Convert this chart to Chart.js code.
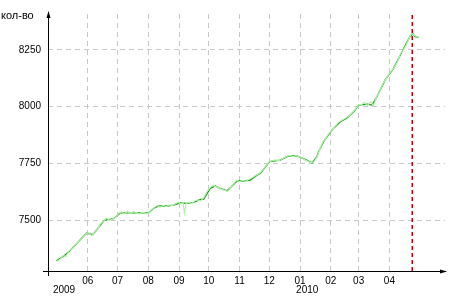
<!DOCTYPE html>
<html>
<head>
<meta charset="utf-8">
<script src="https://cdn.jsdelivr.net/npm/chart.js@4/dist/chart.umd.min.js"></script>
<style>
  html, body { margin: 0; padding: 0; background: #fff; }
</style>
</head>
<body>
<canvas id="chart" width="450" height="296"></canvas>
<script>
// x values are days counted from 2009-06-01
var smoothDays = [-31.5, -24, -19, -10.7, -1.3, 2, 5.4, 11, 16.8, 22, 26, 33, 40, 50, 61.4, 66.5, 71.5, 80, 86.6, 93.4, 100, 106.7, 113.5, 116.8, 123.6, 128.6, 133.6, 140.4, 145.4, 150.5, 157, 163.8, 170.6, 174, 183.3, 194, 202.4, 211, 219, 226, 231, 232.6, 237.7, 246, 254.5, 261, 268, 273, 281.4, 286.4, 291.4, 299.8, 308.2, 316.6, 325, 327.8, 330, 333.3];
var smoothValues = [7322, 7343, 7362, 7399, 7443, 7440, 7437, 7469, 7501, 7504, 7507, 7533, 7533, 7533, 7533, 7553, 7563, 7563, 7567, 7577, 7575, 7579, 7592, 7592, 7641, 7651, 7641, 7630, 7651, 7673, 7673, 7677, 7699, 7707, 7758, 7765, 7783, 7783, 7768, 7753, 7780, 7802, 7846, 7897, 7934, 7949, 7978, 8007, 8011, 8007, 8044, 8119, 8169, 8242, 8311, 8320, 8308, 8305];

var rawDays = [-31, -28, -25, -22, -19, -15, -12, -8, -5, -2, 1, 4, 7, 10, 13, 16, 19, 22, 25, 28, 31, 34, 37, 40, 43, 46, 49, 52, 55, 58, 61, 64, 67, 70, 73, 76, 79, 82, 85, 88, 91, 94, 96, 97.5, 99, 102, 105, 108, 111, 114, 117, 120, 123, 126, 129, 132, 135, 138, 141, 144, 147, 150, 153, 156, 159, 162, 165, 168, 171, 174, 177, 180, 183, 186, 189, 192, 195, 198, 201, 204, 207, 210, 213, 216, 219, 222, 225, 228, 231, 234, 237, 240, 243, 246, 249, 252, 255, 258, 261, 264, 267, 270, 273, 276, 279, 282, 285, 288, 291, 294, 297, 300, 303, 306, 309, 312, 315, 318, 321, 324, 326, 328, 330, 333];
var rawValues = [7320, 7328, 7345, 7340, 7365, 7378, 7395, 7410, 7425, 7440, 7445, 7432, 7444, 7462, 7485, 7497, 7510, 7500, 7506, 7512, 7530, 7538, 7528, 7540, 7530, 7538, 7534, 7528, 7536, 7532, 7530, 7545, 7556, 7565, 7558, 7566, 7560, 7568, 7565, 7572, 7580, 7572, 7578, 7532, 7574, 7580, 7574, 7586, 7590, 7586, 7600, 7625, 7642, 7654, 7648, 7645, 7636, 7632, 7628, 7645, 7660, 7676, 7670, 7676, 7672, 7680, 7685, 7694, 7702, 7710, 7725, 7742, 7758, 7762, 7766, 7762, 7768, 7775, 7782, 7786, 7780, 7785, 7780, 7774, 7766, 7760, 7754, 7758, 7778, 7815, 7845, 7862, 7882, 7896, 7912, 7928, 7938, 7945, 7952, 7962, 7975, 7992, 8008, 8010, 8018, 8005, 8022, 8004, 8044, 8065, 8098, 8120, 8140, 8158, 8172, 8198, 8232, 8250, 8272, 8302, 8322, 8318, 8312, 8306];

var monthTicks = [0, 30, 61, 92, 122, 153, 183, 214, 245, 273, 304];
var monthLabels = ['06', '07', '08', '09', '10', '11', '12', '01', '02', '03', '04'];
var yearDays = [-31, 214];
var yearLabels = ['2009', '2010'];
var valueTicks = [7500, 7750, 8000, 8250];
var markerDay = 327;
var yMin = 7277, yMax = 8408;

function toPoints(xs, ys) {
  return xs.map(function (x, i) { return { x: x, y: ys[i] }; });
}

var FONT = 'Liberation Sans, Arial, sans-serif';

var extras = {
  id: 'extras',
  afterDraw: function (chart) {
    var ctx = chart.ctx;
    var area = chart.chartArea;
    var xs = chart.scales.x;
    ctx.save();
    ctx.strokeStyle = '#000';
    ctx.fillStyle = '#000';
    ctx.lineWidth = 1;
    // axes with a small overhang
    ctx.beginPath();
    ctx.moveTo(area.left - 5, area.bottom + 0.5);
    ctx.lineTo(area.right + 1, area.bottom + 0.5);
    ctx.moveTo(area.left + 0.5, area.bottom + 5);
    ctx.lineTo(area.left + 0.5, area.top - 2);
    ctx.stroke();
    // arrow heads
    ctx.beginPath();
    ctx.moveTo(area.left + 0.5, area.top - 3);
    ctx.lineTo(area.left - 1.5, area.top + 4);
    ctx.lineTo(area.left + 2.5, area.top + 4);
    ctx.closePath();
    ctx.fill();
    ctx.beginPath();
    ctx.moveTo(area.right + 2, area.bottom + 0.5);
    ctx.lineTo(area.right - 5, area.bottom - 1.5);
    ctx.lineTo(area.right - 5, area.bottom + 2.5);
    ctx.closePath();
    ctx.fill();

    ctx.font = '11px ' + FONT;
    ctx.textBaseline = 'middle';
    ctx.textAlign = 'left';
    ctx.fillText('кол-во', 1, 16);

    ctx.font = '10px ' + FONT;
    for (var i = 0; i < yearDays.length; i++) {
      ctx.fillText(yearLabels[i], xs.getPixelForValue(yearDays[i]) - 4, 290);
    }
    ctx.restore();
  }
};

new Chart(document.getElementById('chart'), {
  type: 'line',
  data: {
    datasets: [
      {
        data: [{ x: markerDay, y: yMin }, { x: markerDay, y: yMax + 8 }],
        borderColor: '#c00000',
        borderWidth: 1.5,
        borderDash: [4, 3],
        pointRadius: 0
      },
      {
        data: toPoints(rawDays, rawValues),
        borderColor: '#b4f2ac',
        borderWidth: 1.2,
        pointRadius: 0
      },
      {
        data: toPoints(smoothDays, smoothValues),
        borderColor: '#109a10',
        borderWidth: 1.3,
        pointRadius: 0
      }
    ]
  },
  options: {
    responsive: false,
    animation: false,
    events: [],
    layout: { padding: { top: 14, right: 5, left: 0, bottom: 0 } },
    plugins: { legend: { display: false }, tooltip: { enabled: false } },
    scales: {
      x: {
        type: 'linear',
        min: -40,
        max: 360,
        afterBuildTicks: function (s) {
          s.ticks = monthTicks.map(function (v) { return { value: v }; });
        },
        afterFit: function (s) { s.height = 25; },
        ticks: {
          autoSkip: false,
          maxRotation: 0,
          padding: 4,
          color: '#000',
          font: { family: FONT, size: 10 },
          callback: function (v) { return monthLabels[monthTicks.indexOf(v)]; }
        },
        grid: { color: '#c8c8c8', drawTicks: false },
        border: { display: false, dash: [5, 4] }
      },
      y: {
        min: yMin,
        max: yMax,
        afterBuildTicks: function (s) {
          s.ticks = valueTicks.map(function (v) { return { value: v }; });
        },
        afterFit: function (s) { s.width = 48; },
        ticks: {
          padding: 7,
          color: '#000',
          font: { family: FONT, size: 10 },
          callback: function (v) { return String(v); }
        },
        grid: { color: '#c8c8c8', drawTicks: false },
        border: { display: false, dash: [5, 4] }
      }
    }
  },
  plugins: [extras]
});
</script>
</body>
</html>
